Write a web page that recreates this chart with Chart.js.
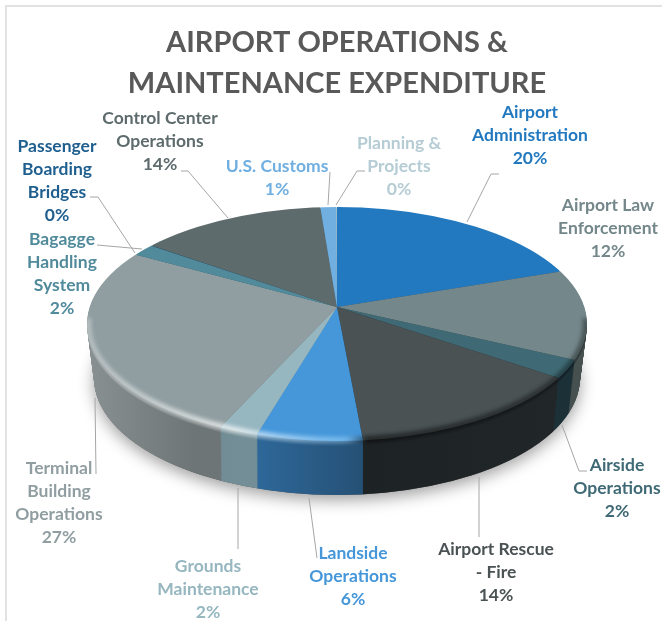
<!DOCTYPE html>
<html>
<head>
<meta charset="utf-8">
<title>Airport Operations & Maintenance Expenditure</title>
<script src="https://cdn.jsdelivr.net/npm/chart.js@4"></script>
<style>
    body { margin: 0; background: #fff; }
    #wrap { position: relative; width: 662px; height: 621px; overflow: hidden; }
    #frame { position: absolute; left: 5px; top: 5px; width: 700px; height: 700px; border: 2px solid #e2e2e2; }
    #expenseChart { position: absolute; left: 0; top: 0; }
</style>
</head>
<body>
<div id="wrap">
    <div id="frame"></div>
    <canvas id="expenseChart" width="662" height="621"></canvas>
</div>
<script>
const categories = ['Airport Administration', 'Airport Law Enforcement', 'Airside Operations', 'Airport Rescue - Fire',
    'Landside Operations', 'Grounds Maintenance', 'Terminal Building Operations', 'Bagagge Handling System',
    'Passenger Boarding Bridges', 'Control Center Operations', 'U.S. Customs', 'Planning & Projects'];
const shares = [19.7, 12.49, 2.49, 13.9, 5.9, 2.2, 26.5, 1.72, 0.05, 13.83, 1.17, 0.05];
const percentLabels = ['20%', '12%', '2%', '14%', '6%', '2%', '27%', '2%', '0%', '14%', '1%', '0%'];

const topColors = ['#2279bf', '#74878a', '#3f6a75', '#4a5254', '#4597da', '#96b6c0', '#909ea1', '#508a9b', '#1f5f8f', '#5e6b6d', '#70afe0', '#b5ccd4'];
const wallLeft = ['#174f7c', '#46514f', '#1c3038', '#1d2224', '#2f6c9f', '#6f8a92', '#979fa1', '#35606c', '#143f60', '#3d4748', '#4a7ea8', '#7f949c'];
const wallRight = ['#174f7c', '#323d3d', '#1c3038', '#22282a', '#254f73', '#738e96', '#6d7576', '#35606c', '#143f60', '#3d4748', '#4a7ea8', '#7f949c'];
const wallFrom = [337, 560, 557, 363, 257, 220, 87, 100, 100, 150, 320, 337];
const wallTo = [557, 586, 572, 560, 363, 257, 220, 150, 150, 320, 337, 340];

// label text lines and where each block sits on the page
const labelLines = [['Airport', 'Administration'], ['Airport Law', 'Enforcement'], ['Airside', 'Operations'], ['Airport Rescue', '- Fire'],
    ['Landside', 'Operations'], ['Grounds', 'Maintenance'], ['Terminal', 'Building', 'Operations'], ['Bagagge', 'Handling', 'System'],
    ['Passenger', 'Boarding', 'Bridges'], ['Control Center', 'Operations'], ['U.S. Customs'], ['Planning &', 'Projects']];
const labelX = [530, 608, 617, 496, 353, 208, 59, 62, 57, 160, 277, 399];
const labelY = [112, 205, 465, 549, 553, 566, 468, 239, 146, 118, 166, 143];
const leaders = [
    [[499, 174], [491, 174], [467, 222]],
    [],
    [[562, 425], [579, 471], [587, 471]],
    [[479, 477], [479, 537]],
    [[309, 498], [317, 558]],
    [[238, 488], [238, 549]],
    [[95, 398], [96, 474]],
    [[97, 245], [142, 249]],
    [[90, 197], [98, 197], [135, 253]],
    [[181, 171], [188, 171], [228, 218]],
    [[330, 172], [328, 205]],
    [[365, 171], [357, 171], [336, 205]]
];

const apexX = 337, apexY = 307;
const rimY = 324, rimRx = 250, rimRy = 117;
const squash = 0.46, depth = 54, taper = 7;

const pie3d = {
    id: 'pie3d',
    beforeDatasetsDraw(chart) {
        const ctx = chart.ctx;
        const arcs = chart.getDatasetMeta(0).data;
        const solid = arcs.map(a => a.options);
        const k = 310 / arcs[0].outerRadius;

        const drawSlices = (drop, rx) => {
            ctx.save();
            ctx.beginPath();
            ctx.ellipse(apexX, rimY + drop, rx, rimRy, 0, 0, Math.PI * 2);
            ctx.clip();
            ctx.translate(apexX, apexY + drop);
            ctx.scale(k, k * squash);
            ctx.translate(-arcs[0].x, -arcs[0].y);
            arcs.forEach(a => a.draw(ctx));
            ctx.restore();
        };

        // soft shadow under the base
        ctx.save();
        ctx.shadowColor = 'rgba(0,0,0,0.38)';
        ctx.shadowBlur = 16;
        ctx.shadowOffsetY = 5;
        ctx.fillStyle = '#555';
        ctx.beginPath();
        ctx.ellipse(apexX, rimY + depth, rimRx - taper, rimRy, 0, 0, Math.PI * 2);
        ctx.fill();
        ctx.restore();

        // side wall: same slices stacked downwards in the darker colours
        arcs.forEach((a, i) => {
            const grad = ctx.createLinearGradient(wallFrom[i], 0, wallTo[i], 0);
            grad.addColorStop(0, wallLeft[i]);
            grad.addColorStop(1, wallRight[i]);
            a.options = { ...solid[i], backgroundColor: grad };
        });
        for (let d = depth; d > 0; d--) {
            drawSlices(d, rimRx - taper * d / depth);
        }
        arcs.forEach((a, i) => { a.options = solid[i]; });

        drawSlices(0, rimRx);

        // rounded bevel along the front of the rim
        ctx.save();
        ctx.beginPath();
        ctx.ellipse(apexX, rimY + 3, rimRx, rimRy + 2, 0, 0, Math.PI * 2);
        ctx.clip();
        const sheen = ctx.createLinearGradient(87, 0, 586, 0);
        sheen.addColorStop(0, 'rgba(255,255,255,0.35)');
        sheen.addColorStop(0.3, 'rgba(255,255,255,0.75)');
        sheen.addColorStop(0.52, 'rgba(160,215,255,0.5)');
        sheen.addColorStop(0.56, 'rgba(0,0,0,0.55)');
        sheen.addColorStop(1, 'rgba(0,0,0,0.4)');
        ctx.filter = 'blur(2px)';
        ctx.strokeStyle = sheen;
        ctx.lineWidth = 6;
        ctx.beginPath();
        ctx.ellipse(apexX, rimY, rimRx - 1, rimRy - 1, 0, -0.05, Math.PI + 0.05);
        ctx.stroke();
        ctx.restore();

        return false;
    },
    afterDraw(chart) {
        const ctx = chart.ctx;
        ctx.save();
        ctx.strokeStyle = '#a6a6a6';
        ctx.lineWidth = 1;
        leaders.forEach(pts => {
            if (!pts.length) return;
            ctx.beginPath();
            pts.forEach((p, j) => j ? ctx.lineTo(p[0], p[1]) : ctx.moveTo(p[0], p[1]));
            ctx.stroke();
        });
        ctx.font = 'bold 17.5px Lato';
        ctx.textAlign = 'center';
        ctx.textBaseline = 'middle';
        categories.forEach((name, i) => {
            ctx.fillStyle = topColors[i];
            labelLines[i].concat(percentLabels[i]).forEach((line, j) => {
                ctx.fillText(line, labelX[i], labelY[i] + j * 23.2);
            });
        });
        ctx.restore();
    }
};

new Chart(document.getElementById('expenseChart'), {
    type: 'pie',
    data: {
        labels: categories,
        datasets: [{
            data: shares,
            backgroundColor: topColors,
            borderWidth: 0
        }]
    },
    options: {
        responsive: false,
        animation: false,
        layout: { padding: { left: 12, top: 12 } },
        plugins: {
            legend: { display: false },
            tooltip: { enabled: false },
            title: {
                display: true,
                text: ['AIRPORT OPERATIONS &', 'MAINTENANCE EXPENDITURE'],
                color: '#595959',
                font: { family: 'Lato', size: 29, weight: 'bold', lineHeight: 1.42 }
            }
        }
    },
    plugins: [pie3d]
});
</script>
</body>
</html>
